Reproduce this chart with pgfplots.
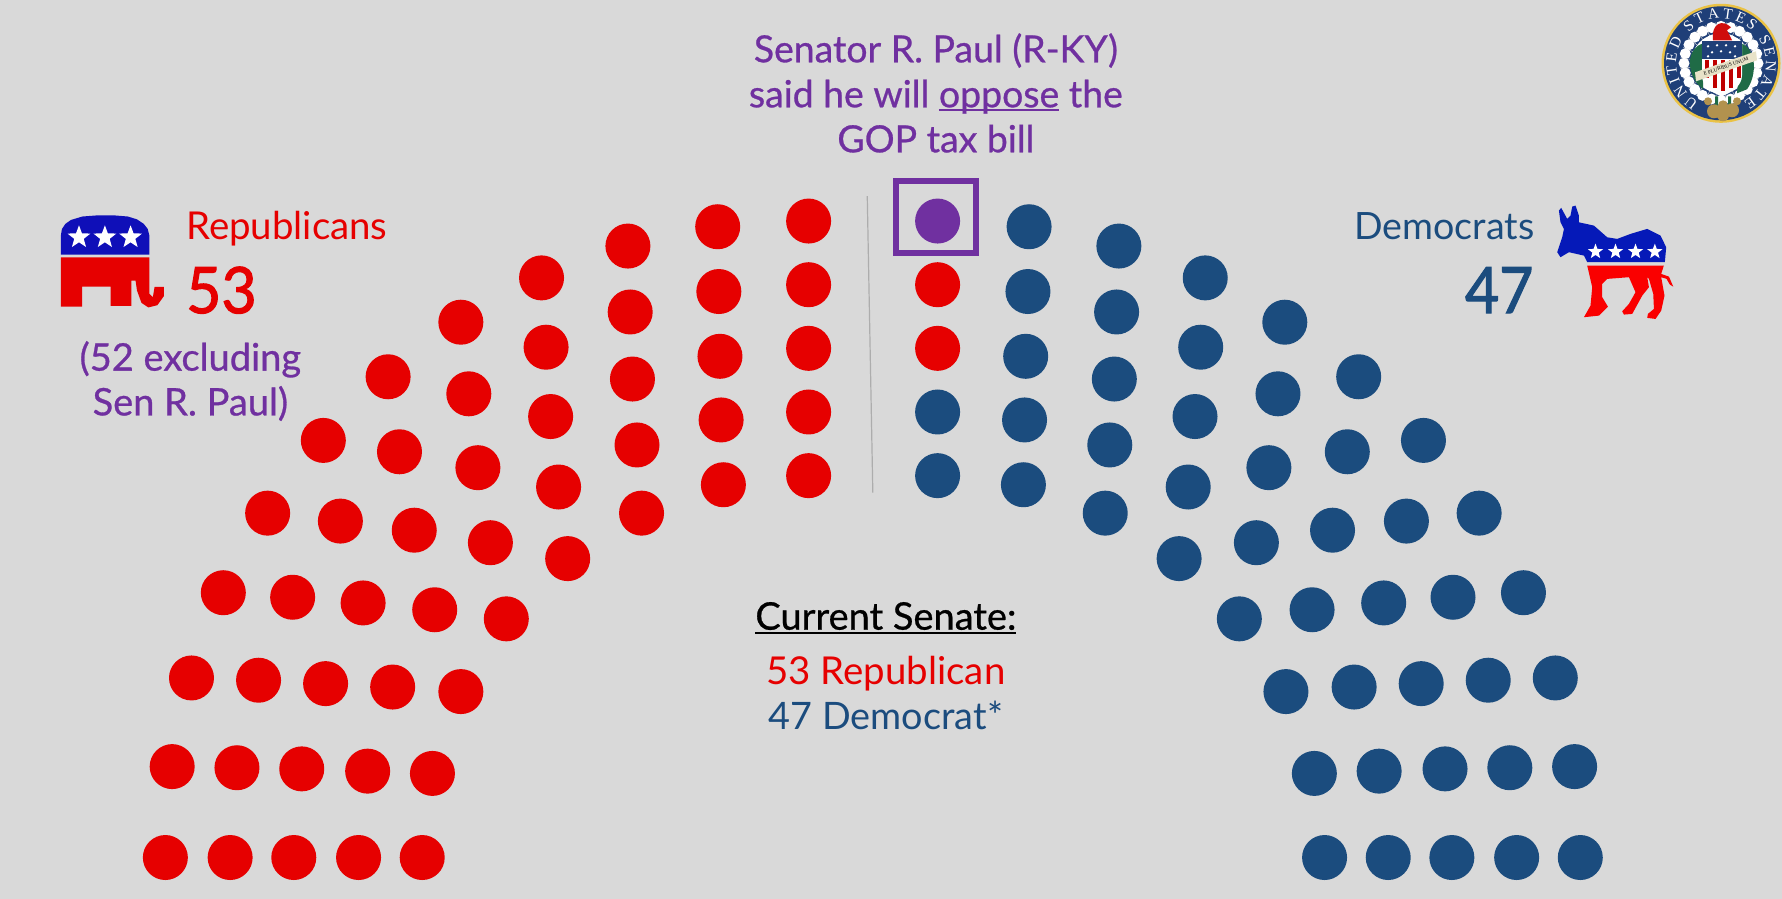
\documentclass[border=0pt]{standalone}
\usepackage{pgfplots}
\pgfplotsset{compat=1.18}
\usepackage{fontspec}
\usetikzlibrary{shapes.geometric,decorations.text}
\setmainfont{Lato}
\newfontfamily\medfont[FakeBold=0.7]{Lato}
\newfontfamily\numfont[FakeBold=1.8]{Lato}
\newfontfamily\sealfont{Liberation Serif}
\definecolor{bg}{HTML}{D9D9D9}
\definecolor{rep}{HTML}{E60000}
\definecolor{dem}{HTML}{1B4C7E}
\definecolor{paul}{HTML}{7030A0}
\definecolor{logoblue}{HTML}{0F0FB8}
\definecolor{donkeyblue}{HTML}{0519B8}
\definecolor{donkeyred}{HTML}{FA0000}
\definecolor{sealblue}{HTML}{1F3F78}
\definecolor{sealgold}{HTML}{EAC245}
\definecolor{sealbrown}{HTML}{B2924E}
\definecolor{sealgreen}{HTML}{1F6B46}
\definecolor{sealribbon}{HTML}{E8E2C8}
\newcommand\ul[1]{\setbox0\hbox{#1}\rlap{\rule[-2pt]{\wd0}{0.9pt}}\box0\relax}
\tikzset{logostar/.style={star, star points=5, star point ratio=2.4, fill=white, inner sep=0pt, minimum size=#1}}
\begin{document}
\begin{tikzpicture}
\fill[bg] (0,0) rectangle (891pt,449.5pt);
\begin{axis}[
    at={(0,0)}, anchor=south west,
    scale only axis, width=891pt, height=449.5pt,
    xmin=-0.5, xmax=1567.5, ymin=-0.5, ymax=790.5,
    y dir=reverse,
    hide axis, clip=false,
]
% divider
\addplot[color=black!32, line width=0.6pt] coordinates {(762.6,172)(767.5,433)};

% republican seats
\addplot[only marks, mark=*, mark size=11.25pt, mark options={fill=rep, draw opacity=0}] coordinates {
    (711,194)(631,199)(552,216)(476,244)(405,283)(341,331)(284,387)(235,451)(196,521)(168,596)(151,674)(145,754)
    (711,250)(632,256)(554,274)(480,305)(412,346)(351,397)(299,458)(257,525)(227,598)(208,675)(202,754)
    (711,306)(633,313)(556,333)(484,366)(420,411)(364,466)(319,530)(286,601)(265,676)(258,754)
    (711,362)(634,369)(560,391)(491,428)(431,477)(382,536)(345,604)(323,678)(315,754)
    (711,418)(636,426)(564,451)(499,491)(445,544)(405,608)(380,680)(371,754)
    (824.5,250)(824.5,306)
};
% democrat seats
\addplot[only marks, mark=*, mark size=11.25pt, mark options={fill=dem, draw opacity=0}] coordinates {
    (905,199)(984,216)(1060,244)(1130,283)(1195,331)(1252,387)(1301,451)(1340,521)(1368,596)(1385,674)(1390,754)
    (904,256)(982,274)(1056,305)(1124,346)(1185,397)(1237,458)(1278,525)(1309,598)(1328,675)(1334,754)
    (902,313)(980,333)(1051,366)(1116,411)(1172,466)(1217,530)(1250,601)(1271,676)(1277,754)
    (901,369)(976,391)(1045,428)(1105,477)(1154,536)(1191,604)(1213,678)(1221,754)
    (900,426)(972,451)(1037,491)(1090,544)(1131,608)(1156,680)(1165,754)
    (824.5,362)(824.5,418)
};
% R. Paul
\addplot[only marks, mark=*, mark size=11.25pt, mark options={fill=paul, draw opacity=0}] coordinates {(824.5,194)};
\addplot[color=paul, line width=3pt, line join=miter] coordinates {(787.5,158.7)(858.5,158.7)(858.5,221.7)(787.5,221.7)} -- cycle;

% texts
\node[anchor=base, text=paul, font=\medfont\fontsize{18.7}{22}\selectfont] at (axis cs:823,54.3) {Senator R. Paul (R-KY)};
\node[anchor=base, text=paul, font=\medfont\fontsize{18.7}{22}\selectfont] at (axis cs:823,93.9) {said he will \ul{oppose} the};
\node[anchor=base, text=paul, font=\medfont\fontsize{18.7}{22}\selectfont] at (axis cs:823,133.5) {GOP tax bill};
\node[anchor=base west, inner sep=0pt, text=rep, font=\fontsize{19.2}{20}\selectfont] at (axis cs:163,210.6) {Republicans};
\node[anchor=base west, inner sep=0pt, text=rep, xscale=0.95, font=\numfont\fontsize{32}{36}\selectfont] at (axis cs:163,275) {53};
\node[anchor=base, text=paul, font=\medfont\fontsize{19}{22}\selectfont] at (axis cs:167,325.6) {(52 excluding};
\node[anchor=base, text=paul, font=\medfont\fontsize{19}{22}\selectfont] at (axis cs:167,365) {Sen R. Paul)};
\node[anchor=base east, inner sep=0pt, text=dem, font=\fontsize{18.8}{20}\selectfont] at (axis cs:1350,210.3) {Democrats};
\node[anchor=base east, inner sep=0pt, text=dem, xscale=0.92, font=\numfont\fontsize{32}{36}\selectfont] at (axis cs:1349,275) {47};
\node[anchor=base, text=black, font=\medfont\fontsize{19}{22}\selectfont] at (axis cs:779,553.5) {\ul{Current Senate:}};
\node[anchor=base, text=rep, font=\fontsize{19.2}{22}\selectfont] at (axis cs:779,601.5) {53 Republican};
\node[anchor=base, text=dem, font=\fontsize{18.9}{22}\selectfont] at (axis cs:779,641.5) {47 Democrat*};

% elephant
\addplot[fill=logoblue, draw=none] coordinates {
    (53,223.5)(53,207)(54,201)(57,196.5)(62,193)(72,190)(85,189)(100,189)(112,190)(120,192.5)(126,196.5)(129.5,201)(131,207)(131,223.5)
} -- cycle;
\addplot[fill=rep, draw=none] coordinates {
    (53,226)(131,226)(131,258)(134,261)(135.5,252)(143.7,252)(143.7,260)(138,268)(130,270)(124,266)(120,255)(118.8,246.4)(115,246.4)(115,268.7)(96.8,268.7)(96.8,251.7)(71.8,251.7)(71.8,269.2)(53,269.2)
} -- cycle;
\node[logostar=12pt] at (axis cs:69,208.3) {};
\node[logostar=12pt] at (axis cs:91.8,208.3) {};
\node[logostar=12pt] at (axis cs:114.4,208.3) {};

% donkey
\addplot[fill=donkeyblue, draw=none] coordinates {
    (1372.6,195.1)(1371.2,184.8)(1373.2,182.4)(1378.5,192.1)(1381.4,189.2)(1382.9,181.3)(1385.8,180.4)(1388.8,189.2)(1388.8,195.1)(1402,198)(1413.7,208.3)(1422.5,209.7)(1434.2,205.3)(1448.9,200.9)(1460.6,206.8)(1465.6,217.1)(1464.4,230.2)(1396.1,230.2)(1393.2,224.4)(1380,221.4)(1372.6,225.8)(1369.7,221.4)(1374.1,208.3)(1375.6,200.9)
} -- cycle;
\addplot[fill=donkeyred, draw=none] coordinates {
    (1396.1,233.2)(1463.5,233.2)(1461.2,240.5)(1468,242.9)(1471.8,251.7)(1468.8,249.9)(1465.9,244.9)(1461.2,243.4)(1464.1,259.6)(1461.2,272.8)(1456.2,280.1)(1448.9,279.2)(1449.5,275.7)(1454.8,271.3)(1454.2,258.1)(1450.4,244.9)(1448.9,243.4)(1450.4,252.2)(1444.5,259.6)(1435.7,275.7)(1428.4,276.3)(1426.9,273.4)(1432.8,266.9)(1438.6,256.6)(1432.8,243.4)(1413.7,244.9)(1409.3,249.3)(1409.3,261)(1414.3,269.3)(1406.4,277.2)(1393.2,278.6)(1399,268.4)(1400.5,252.2)
} -- cycle;
\node[logostar=8pt] at (axis cs:1403.4,220.9) {};
\node[logostar=8pt] at (axis cs:1421,220.9) {};
\node[logostar=8pt] at (axis cs:1438.6,220.9) {};
\node[logostar=8pt] at (axis cs:1455.6,220.9) {};
\end{axis}

% senate seal, in pixels of the reference (half points)
\begin{scope}[shift={(860.5pt,417.85pt)}, x=0.5pt, y=-0.5pt]
\fill[sealgold] (0,0) circle[radius=59.5];
\fill[sealblue] (0,0) circle[radius=57];
% petals
\foreach \a in {0,15,...,345}{
  \fill[white] ({37*sin(\a)},{37*cos(\a)}) circle[radius=5.5];
  \draw[black!18, line width=0.25pt] ({15*sin(\a+7.5)},{15*cos(\a+7.5)}) -- ({41*sin(\a+7.5)},{41*cos(\a+7.5)});
}
\fill[white] (0,0) circle[radius=30];
% wreath
\fill[sealgreen] (-18,-20) .. controls (-32,-16) and (-36,4) .. (-24,20) -- (-18,26) -- cycle;
\fill[sealgreen] (20,-20) .. controls (36,-14) and (36,12) .. (26,26) -- (16,30) -- cycle;
% eagle
\fill[red!80!black!95!white] (-8,-23) .. controls (-10,-41) and (2,-44) .. (10,-36) -- (6,-33) -- (11,-23) -- cycle;
% shield
\fill[white] (-19,-22) -- (21,-22) -- (21,12) .. controls (21,24) and (8,30) .. (1,33) .. controls (-8,30) and (-19,24) .. (-19,12) -- cycle;
\foreach \x in {-16,-8,0,8,16}{
  \fill[red!75!black] (\x,-3) rectangle (\x+4,{28-0.05*\x*\x});
}
\fill[sealblue] (-19,-22) rectangle (21,-4);
\foreach \x/\y in {-13/-17,-4/-18,5/-18,14/-17,-9/-11,0/-12,9/-11,-13/-7,14/-7}{
  \fill[white] (\x,\y) circle[radius=1.3];
}
% ribbon
\fill[sealribbon] (-26,9) -- (35,-12) -- (36,-3) -- (-25,18) -- cycle;
\node[rotate=19, text=black, inner sep=0pt, font=\sealfont\fontsize{2.6}{3}\selectfont] at (5,3) {E PLURIBUS UNUM};
% stems and olive at the foot
\fill[sealgreen] (-6,33) rectangle (-3,42) (7,33) rectangle (10,42);
\fill[sealbrown] (-13,38) circle[radius=4] (-7,48) circle[radius=7] (2,52) circle[radius=6] (11,47) circle[radius=7] (16,38) circle[radius=4] (2,42) circle[radius=5];
\end{scope}
\begin{scope}[shift={(860.5pt,417.85pt)}]
\path[decorate, decoration={text along path, text align={fit to path}, text={|\sealfont\fontsize{7.6}{8}\selectfont\color{white}|UNITED STATES SENATE}}]
  (240:22.4pt) arc[start angle=240, end angle=-60, radius=22.4pt];
\end{scope}
\end{tikzpicture}
\end{document}
